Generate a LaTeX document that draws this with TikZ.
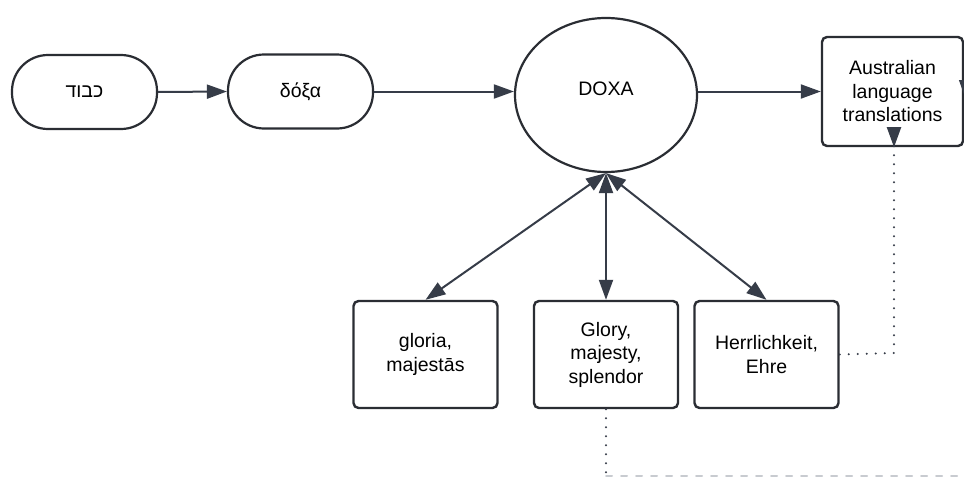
\documentclass[tikz,border=0pt]{standalone}
\usepackage{fontspec}
\setmainfont{Liberation Sans}
\newfontfamily\hebfont[Script=Hebrew]{Liberation Sans}
\TeXXeTstate=1
\usetikzlibrary{shapes.geometric,arrows.meta}
\definecolor{linec}{HTML}{363C48}
\definecolor{boxc}{HTML}{2A2D33}
\definecolor{faintc}{HTML}{C8CBD0}
\tikzset{
  txt/.style={font=\fontsize{19.5}{23.5}\selectfont, text=black, align=center},
  pill/.style={txt, draw=boxc, line width=2.2pt, rounded corners=36pt,
    minimum width=145pt, minimum height=74pt, inner sep=0pt},
  bigcirc/.style={txt, ellipse, draw=boxc, line width=2.2pt,
    minimum width=182pt, minimum height=154pt, inner sep=0pt},
  card/.style={txt, draw=boxc, line width=2.4pt, rounded corners=5pt,
    minimum width=144pt, minimum height=107pt, inner sep=0pt},
  conn/.style={draw=linec, line width=2pt, -{Triangle[length=20pt 0 0,width=14pt 0 0]}},
  both/.style={draw=linec, line width=2pt, {Triangle[length=20pt 0 0,width=14pt 0 0]}-{Triangle[length=20pt 0 0,width=14pt 0 0]}},
  dotline/.style={draw=linec, line width=2.2pt, line cap=round, dash pattern=on 0pt off 9pt},
  faintline/.style={draw=faintc, line width=2pt, line cap=round, dash pattern=on 6pt off 9pt},
}
\begin{document}
\begin{tikzpicture}[x=1pt,y=-1pt]
\useasboundingbox[fill=white] (0,0) rectangle (964,479);

\node[pill] (kavod) at (84.5,92) {{\hebfont\beginR כבוד\endR}};
\node[pill] (doxag) at (300.5,91.5) {δόξα};
\node[bigcirc] (doxa) at (606,95) {\raisebox{13pt}{DOXA}};
\node[card, minimum width=141pt, minimum height=109pt] (aus) at (892.5,91.5) {Australian\\language\\translations};

\node[card] (gloria) at (425.5,354.5) {gloria,\\majestās};
\node[card] (glory) at (606,354.5) {Glory,\\majesty,\\splendor};
\node[card] (herr) at (766.5,354.5) {Herrlichkeit,\\Ehre};

\coordinate (hc) at (894,353);
\coordinate (gb) at (606,476);
\coordinate (gr) at (966,476);
\coordinate (rt) at (966,100);

\draw[conn] (kavod.east) -- (doxag.west);
\draw[conn] (doxag.east) -- (doxag.east -| doxa.west);
\draw[conn] (doxa.east |- aus.west) -- (aus.west);

\draw[both] (gloria.north) -- (doxa.south);
\draw[both] (glory.north) -- (doxa.south);
\draw[both] (herr.north) -- (doxa.south);

\draw[dotline] (herr.east) -- (hc) -- ([yshift=26pt]aus.south -| hc);
\draw[conn] ([yshift=20pt]aus.south -| hc) -- (aus.south -| hc);

\draw[dotline] (glory.south) -- (gb);
\draw[faintline] (gb) -- (gr) -- ([yshift=20pt]rt);
\draw[conn, line width=1pt] ([yshift=20pt]rt) -- (rt);
\end{tikzpicture}
\end{document}
